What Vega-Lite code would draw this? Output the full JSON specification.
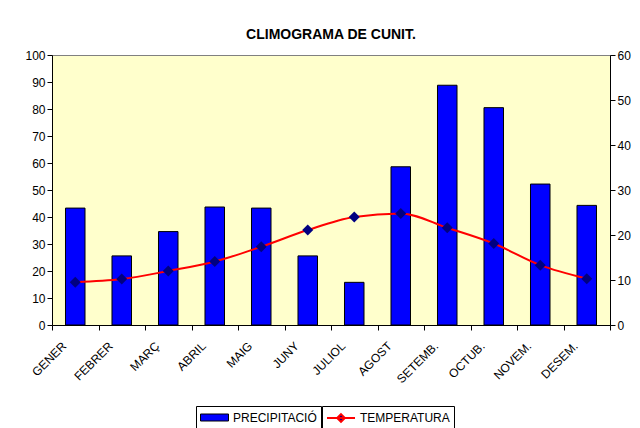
{
  "$schema": "https://vega.github.io/schema/vega-lite/v6.json",
  "width": 558,
  "height": 270,
  "autosize": {"type": "none"},
  "padding": {"left": 52, "top": 55, "right": 30, "bottom": 103},
  "background": "white",
  "title": {"text": "CLIMOGRAMA DE CUNIT.", "font": "Liberation Sans", "fontSize": 14, "fontWeight": "bold", "color": "black", "offset": 7, "anchor": "middle"},
  "config": {
    "view": {"fill": "#FFFFCC", "stroke": "#808080"},
    "axis": {"labelFont": "Liberation Sans", "labelFontSize": 12, "labelColor": "black", "domainColor": "black", "tickColor": "black", "grid": false, "tickSize": 5, "title": null},
    "legend": {"labelFont": "Liberation Sans", "labelFontSize": 12, "labelColor": "black", "symbolSize": 196, "symbolOffset": 7, "labelOffset": 11, "padding": 4}
  },
  "data": {"values": [
    {"mes": "GENER", "prec": 43.3, "temp": 9.5},
    {"mes": "FEBRER", "prec": 25.6, "temp": 10.2},
    {"mes": "MARÇ", "prec": 34.6, "temp": 12.0},
    {"mes": "ABRIL", "prec": 43.7, "temp": 14.1},
    {"mes": "MAIG", "prec": 43.3, "temp": 17.4},
    {"mes": "JUNY", "prec": 25.6, "temp": 21.1},
    {"mes": "JULIOL", "prec": 15.8, "temp": 24.0},
    {"mes": "AGOST", "prec": 58.6, "temp": 24.8},
    {"mes": "SETEMB.", "prec": 88.8, "temp": 21.6},
    {"mes": "OCTUB.", "prec": 80.5, "temp": 18.1},
    {"mes": "NOVEM.", "prec": 52.2, "temp": 13.3},
    {"mes": "DESEM.", "prec": 44.3, "temp": 10.3}
  ]},
  "encoding": {
    "x": {"field": "mes", "type": "nominal", "sort": null,
      "scale": {"paddingInner": 0, "paddingOuter": 0},
      "axis": {"labelAngle": -45, "tickBand": "extent", "labelPadding": 10, "labelOffset": -15}}
  },
  "layer": [
    {
      "mark": {"type": "bar", "width": {"band": 0.42}, "stroke": "black", "strokeWidth": 1},
      "encoding": {
        "y": {"field": "prec", "type": "quantitative", "scale": {"domain": [0, 100], "nice": false},
          "axis": {"values": [0,10,20,30,40,50,60,70,80,90,100], "orient": "left"}},
        "fill": {"datum": "PRECIPITACIÓ", "type": "nominal",
          "scale": {"domain": ["PRECIPITACIÓ"], "range": ["#0000FF"]},
          "legend": {"title": null, "orient": "none", "legendX": 144, "legendY": 351,
            "strokeColor": "black",
            "symbolType": "M-2,-0.5H2V0.5H-2Z", "symbolStrokeColor": "black", "symbolStrokeWidth": 1, "symbolOpacity": 1}
        }
      }
    },
    {
      "layer": [
        {
          "mark": {"type": "line", "interpolate": "monotone", "strokeWidth": 2},
          "encoding": {
            "y": {"field": "temp", "type": "quantitative", "scale": {"domain": [0, 60], "nice": false},
              "axis": {"values": [0,10,20,30,40,50,60], "orient": "right"}},
            "stroke": {"datum": "TEMPERATURA", "type": "nominal",
              "scale": {"domain": ["TEMPERATURA"], "range": ["#FF0000"]},
              "legend": {"title": null, "orient": "none", "legendX": 270, "legendY": 351,
                "strokeColor": "black",
                "symbolType": "M-2,0H2M0,-0.55L0.55,0L0,0.55L-0.55,0Z", "symbolFillColor": "#000080", "symbolStrokeWidth": 2, "symbolOpacity": 1}
            }
          }
        },
        {
          "mark": {"type": "point", "shape": "diamond", "filled": true, "size": 120, "color": "#000080", "opacity": 1},
          "encoding": {
            "y": {"field": "temp", "type": "quantitative"}
          }
        }
      ]
    }
  ],
  "resolve": {"scale": {"y": "independent"}}
}
